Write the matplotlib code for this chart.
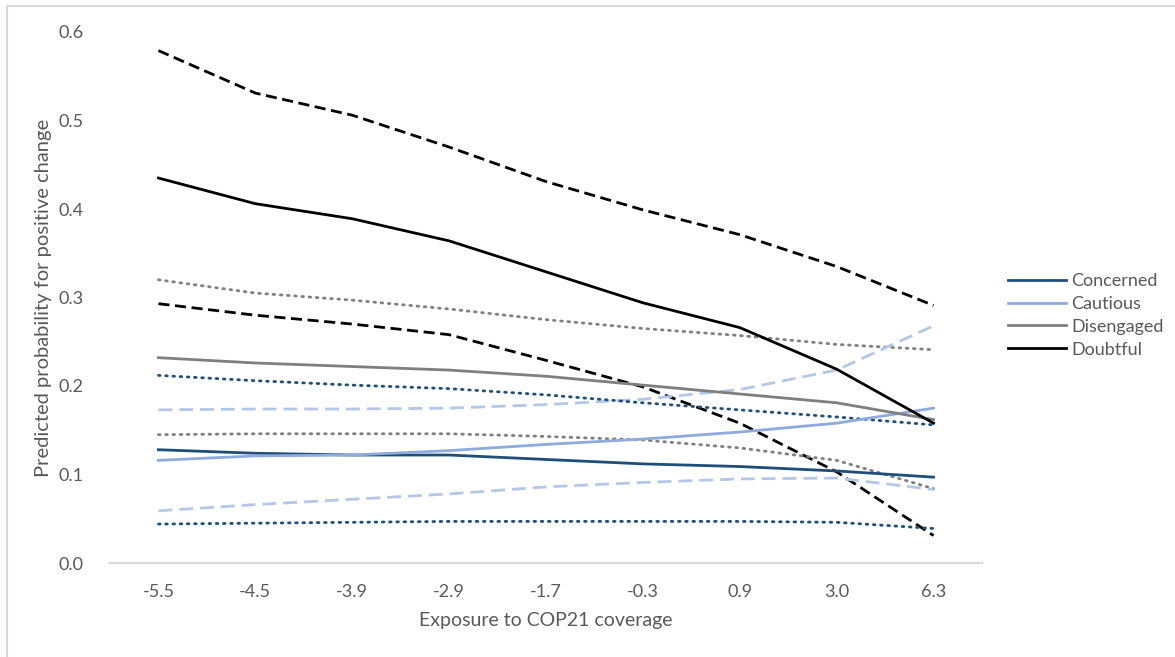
import matplotlib
matplotlib.use('Agg')
import matplotlib.pyplot as plt
from matplotlib.patches import Rectangle

plt.rcParams['font.family'] = ['Lato', 'DejaVu Sans']

# Exposure to COP21 coverage (categorical x axis)
exposure = ['-5.5', '-4.5', '-3.9', '-2.9', '-1.7', '-0.3', '0.9', '3.0', '6.3']

# Predicted probabilities with lower/upper bounds per segment
concerned = [0.128, 0.124, 0.122, 0.122, 0.117, 0.112, 0.109, 0.104, 0.097]
concerned_hi = [0.212, 0.206, 0.201, 0.197, 0.190, 0.181, 0.173, 0.165, 0.156]
concerned_lo = [0.044, 0.045, 0.046, 0.047, 0.047, 0.047, 0.047, 0.046, 0.039]

cautious = [0.116, 0.121, 0.122, 0.127, 0.134, 0.140, 0.148, 0.158, 0.175]
cautious_hi = [0.173, 0.174, 0.174, 0.175, 0.179, 0.185, 0.196, 0.218, 0.268]
cautious_lo = [0.059, 0.066, 0.072, 0.078, 0.086, 0.091, 0.095, 0.096, 0.083]

disengaged = [0.232, 0.226, 0.222, 0.218, 0.211, 0.201, 0.191, 0.181, 0.162]
disengaged_hi = [0.320, 0.305, 0.297, 0.287, 0.275, 0.265, 0.257, 0.247, 0.241]
disengaged_lo = [0.145, 0.146, 0.146, 0.146, 0.143, 0.139, 0.130, 0.116, 0.084]

doubtful = [0.435, 0.406, 0.389, 0.364, 0.329, 0.294, 0.266, 0.219, 0.158]
doubtful_hi = [0.579, 0.531, 0.506, 0.470, 0.431, 0.399, 0.371, 0.335, 0.291]
doubtful_lo = [0.293, 0.280, 0.270, 0.258, 0.229, 0.199, 0.158, 0.103, 0.031]

TEXT = '#595959'
C_CONC = '#1F4E79'
C_CAUT = '#8FAADC'
C_CAUT_CI = '#B4C7E7'
C_DIS = '#7F7F7F'
C_DOUBT = '#000000'

fig = plt.figure(figsize=(11.75, 6.57), dpi=100)
ax = fig.add_axes([110 / 1175, 1 - 563 / 657, 872 / 1175, 531 / 657])

x = list(range(len(exposure)))
lw = 2.0
dotted = (0, (0.6, 2.0))
dashed = (0, (4, 2))
dashed_long = (0, (5, 2.5))

# confidence bounds
ax.plot(x, doubtful_hi, color=C_DOUBT, lw=lw, linestyle=dashed)
ax.plot(x, doubtful_lo, color=C_DOUBT, lw=lw, linestyle=dashed)
ax.plot(x, disengaged_hi, color=C_DIS, lw=lw, linestyle=dotted, dash_capstyle='round')
ax.plot(x, disengaged_lo, color=C_DIS, lw=lw, linestyle=dotted, dash_capstyle='round')
ax.plot(x, cautious_hi, color=C_CAUT_CI, lw=lw, linestyle=dashed_long)
ax.plot(x, cautious_lo, color=C_CAUT_CI, lw=lw, linestyle=dashed_long)
ax.plot(x, concerned_hi, color=C_CONC, lw=lw, linestyle=dotted, dash_capstyle='round')
ax.plot(x, concerned_lo, color=C_CONC, lw=lw, linestyle=dotted, dash_capstyle='round')

# main estimates
h1, = ax.plot(x, concerned, color=C_CONC, lw=lw, label='Concerned')
h2, = ax.plot(x, cautious, color=C_CAUT, lw=lw, label='Cautious')
h3, = ax.plot(x, disengaged, color=C_DIS, lw=lw, label='Disengaged')
h4, = ax.plot(x, doubtful, color=C_DOUBT, lw=lw, label='Doubtful')

ax.set_xlim(-0.5, len(exposure) - 0.5)
ax.set_ylim(0, 0.6)
ax.set_xticks(x)
ax.set_xticklabels(exposure)
ax.set_yticks([0, 0.1, 0.2, 0.3, 0.4, 0.5, 0.6])
ax.set_yticklabels(['0.0', '0.1', '0.2', '0.3', '0.4', '0.5', '0.6'])
ax.tick_params(length=0, colors=TEXT, labelsize=13)
ax.tick_params(axis='x', pad=15)
ax.tick_params(axis='y', pad=19)

for s in ['top', 'right', 'left']:
    ax.spines[s].set_visible(False)
ax.spines['bottom'].set_color('#D9D9D9')
ax.spines['bottom'].set_linewidth(1.5)

ax.set_xlabel('Exposure to COP21 coverage', color=TEXT, fontsize=14, labelpad=9)
ax.set_ylabel('Predicted probability for positive change', color=TEXT, fontsize=14.5, labelpad=5)

fig.legend(handles=[h1, h2, h3, h4], loc='upper left',
           bbox_to_anchor=(1008 / 1175, 1 - 273 / 657), frameon=False,
           fontsize=13, labelcolor=TEXT, handlelength=3.2, handletextpad=0.3,
           borderpad=0, borderaxespad=0, labelspacing=0.38)

# chart area border
fig.patches.append(Rectangle((7 / 1175, -0.5), 2, 1.5 - 6 / 657, transform=fig.transFigure,
                             fill=False, edgecolor='#D9D9D9', lw=1.5))

fig.savefig('out.png', dpi=100)
